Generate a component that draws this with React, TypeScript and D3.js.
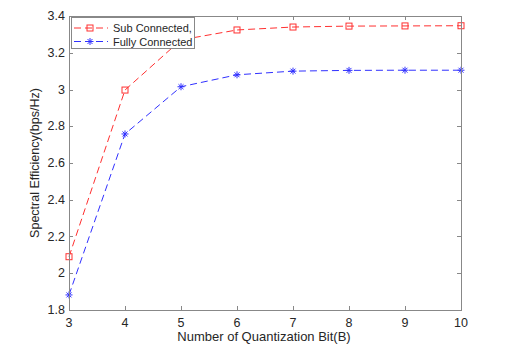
import React from 'react'
import * as d3 from 'd3'

const bits = [3, 4, 5, 6, 7, 8, 9, 10]
const subConnected = [2.09, 2.997, 3.27, 3.324, 3.34, 3.345, 3.346, 3.347]
const fullyConnected = [1.882, 2.758, 3.015, 3.08, 3.1, 3.104, 3.105, 3.105]
const yTicks = [1.8, 2, 2.2, 2.4, 2.6, 2.8, 3, 3.2, 3.4]
const seriesNames = ['Sub Connected,', 'Fully Connected']

const width = 518
const height = 359
const left = 69
const right = 461
const top = 16
const bottom = 310
const axisColor = '#888888'
const textColor = '#262626'
const font = 'Arial, "Liberation Sans", Helvetica, sans-serif'
const red = '#ff3030'
const blue = '#3030ff'
const dash = '7,4'

const x = d3.scaleLinear().domain([3, 10]).range([left, right])
const y = d3.scaleLinear().domain([1.8, 3.4]).range([bottom, top])

const line = d3.line<[number, number]>()
  .x(d => x(d[0]))
  .y(d => y(d[1]))

function Square({ cx, cy, color }: { cx: number, cy: number, color: string }) {
  return <rect x={cx - 3} y={cy - 3} width={6} height={6} fill='none' stroke={color} strokeWidth={1} />
}

function Star({ cx, cy, color }: { cx: number, cy: number, color: string }) {
  const r = 3.5
  const d = r * 0.707
  return (
    <g stroke={color} strokeWidth={1}>
      <line x1={cx - r} y1={cy} x2={cx + r} y2={cy} />
      <line x1={cx} y1={cy - r} x2={cx} y2={cy + r} />
      <line x1={cx - d} y1={cy - d} x2={cx + d} y2={cy + d} />
      <line x1={cx - d} y1={cy + d} x2={cx + d} y2={cy - d} />
    </g>
  )
}

export default function App() {
  const subPts = bits.map((b, i) => [b, subConnected[i]] as [number, number])
  const fullPts = bits.map((b, i) => [b, fullyConnected[i]] as [number, number])
  const tl = 4

  return (
    <svg width={width} height={height} style={{ position: 'absolute', left: 0, top: 0, background: '#fff' }}
      fontFamily={font}>
      <rect x={0} y={0} width={width} height={height} fill='#fff' />

      {/* series */}
      <path d={line(subPts) ?? ''} fill='none' stroke={red} strokeWidth={1} strokeDasharray={dash} />
      <path d={line(fullPts) ?? ''} fill='none' stroke={blue} strokeWidth={1} strokeDasharray={dash} />
      {subPts.map((p, i) => <Square key={'s' + i} cx={x(p[0])} cy={y(p[1])} color={red} />)}
      {fullPts.map((p, i) => <Star key={'f' + i} cx={x(p[0])} cy={y(p[1])} color={blue} />)}

      {/* axes box */}
      <rect x={left + 0.5} y={top + 0.5} width={right - left} height={bottom - top}
        fill='none' stroke={axisColor} strokeWidth={1} />
      {bits.map(b => (
        <g key={'xt' + b}>
          <line x1={Math.round(x(b)) + 0.5} x2={Math.round(x(b)) + 0.5} y1={bottom} y2={bottom - tl} stroke={axisColor} />
          <line x1={Math.round(x(b)) + 0.5} x2={Math.round(x(b)) + 0.5} y1={top} y2={top + tl} stroke={axisColor} />
          <text x={x(b)} y={bottom + 17} textAnchor='middle' fontSize={12.5} fill={textColor}>{b}</text>
        </g>
      ))}
      {yTicks.map(t => (
        <g key={'yt' + t}>
          <line x1={left} x2={left + tl} y1={Math.round(y(t)) + 0.5} y2={Math.round(y(t)) + 0.5} stroke={axisColor} />
          <line x1={right} x2={right - tl} y1={Math.round(y(t)) + 0.5} y2={Math.round(y(t)) + 0.5} stroke={axisColor} />
          <text x={left - 4} y={y(t) + 4} textAnchor='end' fontSize={12.5} fill={textColor}>{d3.format('~g')(t)}</text>
        </g>
      ))}

      <text x={(left + right) / 2 - 1} y={bottom + 31} textAnchor='middle' fontSize={13} fill={textColor}>
        Number of Quantization Bit(B)
      </text>
      <text transform={`translate(${left - 30},${(top + bottom) / 2}) rotate(-90)`} textAnchor='middle'
        fontSize={12.5} fill={textColor}>
        Spectral Efficiency(bps/Hz)
      </text>

      {/* legend */}
      <g>
        <rect x={71.5} y={17.5} width={123} height={31} fill='#fff' stroke={axisColor} strokeWidth={1} />
        {seriesNames.map((name, i) => {
          const ly = 28 + i * 13.5
          const color = i === 0 ? red : blue
          return (
            <g key={name}>
              <line x1={74} x2={108} y1={ly} y2={ly} stroke={color} strokeDasharray={dash} />
              {i === 0 ? <Square cx={90} cy={ly} color={color} /> : <Star cx={90} cy={ly} color={color} />}
              <text x={113} y={ly + 4} fontSize={11} fill={textColor}>{name}</text>
            </g>
          )
        })}
      </g>
    </svg>
  )
}
